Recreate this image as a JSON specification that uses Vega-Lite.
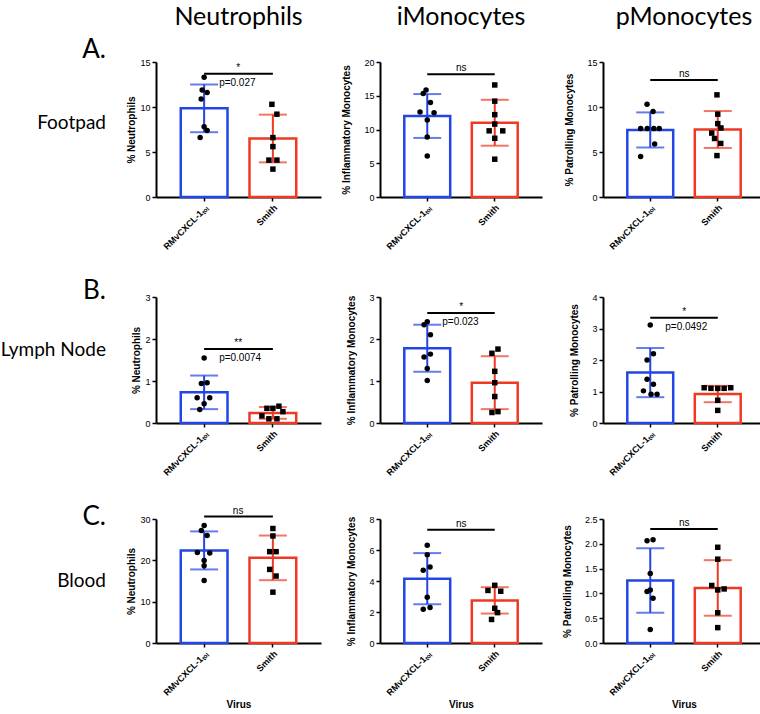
{
"$schema":"https://vega.github.io/schema/vega-lite/v6.json",
"padding":{"top":5,"left":0,"right":0,"bottom":0},
"background":"white",
"data":{"values":[
{"tissue":"Footpad","cell":"Neutrophils","kind":"bar","virus":"RMvCXCL-1ₜₒₗ","value":9.85,"sd":2.65},
{"tissue":"Footpad","cell":"Neutrophils","kind":"bar","virus":"Smith","value":6.5,"sd":2.65},
{"tissue":"Footpad","cell":"Neutrophils","kind":"pt","virus":"RMvCXCL-1ₜₒₗ","value":13.3,"jitter":0},
{"tissue":"Footpad","cell":"Neutrophils","kind":"pt","virus":"RMvCXCL-1ₜₒₗ","value":11.9,"jitter":-0.5},
{"tissue":"Footpad","cell":"Neutrophils","kind":"pt","virus":"RMvCXCL-1ₜₒₗ","value":11.6,"jitter":0.75},
{"tissue":"Footpad","cell":"Neutrophils","kind":"pt","virus":"RMvCXCL-1ₜₒₗ","value":10.9,"jitter":-0.75},
{"tissue":"Footpad","cell":"Neutrophils","kind":"pt","virus":"RMvCXCL-1ₜₒₗ","value":7.8,"jitter":0},
{"tissue":"Footpad","cell":"Neutrophils","kind":"pt","virus":"RMvCXCL-1ₜₒₗ","value":7.4,"jitter":0.75},
{"tissue":"Footpad","cell":"Neutrophils","kind":"pt","virus":"RMvCXCL-1ₜₒₗ","value":6.6,"jitter":-1},
{"tissue":"Footpad","cell":"Neutrophils","kind":"pt","virus":"Smith","value":10.3,"jitter":-0.25},
{"tissue":"Footpad","cell":"Neutrophils","kind":"pt","virus":"Smith","value":9.2,"jitter":1},
{"tissue":"Footpad","cell":"Neutrophils","kind":"pt","virus":"Smith","value":6.6,"jitter":0},
{"tissue":"Footpad","cell":"Neutrophils","kind":"pt","virus":"Smith","value":5.6,"jitter":0},
{"tissue":"Footpad","cell":"Neutrophils","kind":"pt","virus":"Smith","value":4.1,"jitter":-1},
{"tissue":"Footpad","cell":"Neutrophils","kind":"pt","virus":"Smith","value":4.1,"jitter":1},
{"tissue":"Footpad","cell":"Neutrophils","kind":"pt","virus":"Smith","value":3.1,"jitter":0},
{"tissue":"Footpad","cell":"Neutrophils","kind":"sig","value":13.7,"label":"*","pval":"p=0.027"},

{"tissue":"Footpad","cell":"iMonocytes","kind":"bar","virus":"RMvCXCL-1ₜₒₗ","value":12.0,"sd":3.25},
{"tissue":"Footpad","cell":"iMonocytes","kind":"bar","virus":"Smith","value":11.0,"sd":3.4},
{"tissue":"Footpad","cell":"iMonocytes","kind":"pt","virus":"RMvCXCL-1ₜₒₗ","value":15.86,"jitter":-0.3},
{"tissue":"Footpad","cell":"iMonocytes","kind":"pt","virus":"RMvCXCL-1ₜₒₗ","value":15.35,"jitter":-1},
{"tissue":"Footpad","cell":"iMonocytes","kind":"pt","virus":"RMvCXCL-1ₜₒₗ","value":14.0,"jitter":0.8},
{"tissue":"Footpad","cell":"iMonocytes","kind":"pt","virus":"RMvCXCL-1ₜₒₗ","value":12.6,"jitter":-1.8},
{"tissue":"Footpad","cell":"iMonocytes","kind":"pt","virus":"RMvCXCL-1ₜₒₗ","value":12.5,"jitter":1.7},
{"tissue":"Footpad","cell":"iMonocytes","kind":"pt","virus":"RMvCXCL-1ₜₒₗ","value":11.4,"jitter":0},
{"tissue":"Footpad","cell":"iMonocytes","kind":"pt","virus":"RMvCXCL-1ₜₒₗ","value":8.9,"jitter":0},
{"tissue":"Footpad","cell":"iMonocytes","kind":"pt","virus":"RMvCXCL-1ₜₒₗ","value":6.06,"jitter":0},
{"tissue":"Footpad","cell":"iMonocytes","kind":"pt","virus":"Smith","value":16.6,"jitter":0},
{"tissue":"Footpad","cell":"iMonocytes","kind":"pt","virus":"Smith","value":14.2,"jitter":0},
{"tissue":"Footpad","cell":"iMonocytes","kind":"pt","virus":"Smith","value":12.2,"jitter":0},
{"tissue":"Footpad","cell":"iMonocytes","kind":"pt","virus":"Smith","value":10.8,"jitter":0},
{"tissue":"Footpad","cell":"iMonocytes","kind":"pt","virus":"Smith","value":9.8,"jitter":-1.4},
{"tissue":"Footpad","cell":"iMonocytes","kind":"pt","virus":"Smith","value":9.8,"jitter":2},
{"tissue":"Footpad","cell":"iMonocytes","kind":"pt","virus":"Smith","value":8.7,"jitter":0},
{"tissue":"Footpad","cell":"iMonocytes","kind":"pt","virus":"Smith","value":5.6,"jitter":0},
{"tissue":"Footpad","cell":"iMonocytes","kind":"sig","value":18.2,"label":"ns"},

{"tissue":"Footpad","cell":"pMonocytes","kind":"bar","virus":"RMvCXCL-1ₜₒₗ","value":7.45,"sd":1.95},
{"tissue":"Footpad","cell":"pMonocytes","kind":"bar","virus":"Smith","value":7.5,"sd":2.05},
{"tissue":"Footpad","cell":"pMonocytes","kind":"pt","virus":"RMvCXCL-1ₜₒₗ","value":10.3,"jitter":-0.8},
{"tissue":"Footpad","cell":"pMonocytes","kind":"pt","virus":"RMvCXCL-1ₜₒₗ","value":9.5,"jitter":0.7},
{"tissue":"Footpad","cell":"pMonocytes","kind":"pt","virus":"RMvCXCL-1ₜₒₗ","value":7.6,"jitter":-2.4},
{"tissue":"Footpad","cell":"pMonocytes","kind":"pt","virus":"RMvCXCL-1ₜₒₗ","value":7.6,"jitter":-0.75},
{"tissue":"Footpad","cell":"pMonocytes","kind":"pt","virus":"RMvCXCL-1ₜₒₗ","value":7.6,"jitter":0.9},
{"tissue":"Footpad","cell":"pMonocytes","kind":"pt","virus":"RMvCXCL-1ₜₒₗ","value":7.6,"jitter":2.25},
{"tissue":"Footpad","cell":"pMonocytes","kind":"pt","virus":"RMvCXCL-1ₜₒₗ","value":5.9,"jitter":1.1},
{"tissue":"Footpad","cell":"pMonocytes","kind":"pt","virus":"RMvCXCL-1ₜₒₗ","value":4.5,"jitter":-2.4},
{"tissue":"Footpad","cell":"pMonocytes","kind":"pt","virus":"Smith","value":11.35,"jitter":-0.2},
{"tissue":"Footpad","cell":"pMonocytes","kind":"pt","virus":"Smith","value":9.2,"jitter":0},
{"tissue":"Footpad","cell":"pMonocytes","kind":"pt","virus":"Smith","value":8.15,"jitter":0},
{"tissue":"Footpad","cell":"pMonocytes","kind":"pt","virus":"Smith","value":7.67,"jitter":0.8},
{"tissue":"Footpad","cell":"pMonocytes","kind":"pt","virus":"Smith","value":7.1,"jitter":-1.5},
{"tissue":"Footpad","cell":"pMonocytes","kind":"pt","virus":"Smith","value":6.5,"jitter":-0.8},
{"tissue":"Footpad","cell":"pMonocytes","kind":"pt","virus":"Smith","value":5.95,"jitter":0.75},
{"tissue":"Footpad","cell":"pMonocytes","kind":"pt","virus":"Smith","value":4.6,"jitter":-0.2},
{"tissue":"Footpad","cell":"pMonocytes","kind":"sig","value":13.0,"label":"ns"},

{"tissue":"Lymph Node","cell":"Neutrophils","kind":"bar","virus":"RMvCXCL-1ₜₒₗ","value":0.73,"sd":0.4},
{"tissue":"Lymph Node","cell":"Neutrophils","kind":"bar","virus":"Smith","value":0.24,"sd":0.14},
{"tissue":"Lymph Node","cell":"Neutrophils","kind":"pt","virus":"RMvCXCL-1ₜₒₗ","value":1.55,"jitter":0},
{"tissue":"Lymph Node","cell":"Neutrophils","kind":"pt","virus":"RMvCXCL-1ₜₒₗ","value":0.94,"jitter":-0.7},
{"tissue":"Lymph Node","cell":"Neutrophils","kind":"pt","virus":"RMvCXCL-1ₜₒₗ","value":0.96,"jitter":0.75},
{"tissue":"Lymph Node","cell":"Neutrophils","kind":"pt","virus":"RMvCXCL-1ₜₒₗ","value":0.6,"jitter":-1.75},
{"tissue":"Lymph Node","cell":"Neutrophils","kind":"pt","virus":"RMvCXCL-1ₜₒₗ","value":0.6,"jitter":1.4},
{"tissue":"Lymph Node","cell":"Neutrophils","kind":"pt","virus":"RMvCXCL-1ₜₒₗ","value":0.46,"jitter":0},
{"tissue":"Lymph Node","cell":"Neutrophils","kind":"pt","virus":"RMvCXCL-1ₜₒₗ","value":0.32,"jitter":-1.1},
{"tissue":"Lymph Node","cell":"Neutrophils","kind":"pt","virus":"Smith","value":0.17,"jitter":-2.75},
{"tissue":"Lymph Node","cell":"Neutrophils","kind":"pt","virus":"Smith","value":0.35,"jitter":-1.5},
{"tissue":"Lymph Node","cell":"Neutrophils","kind":"pt","virus":"Smith","value":0.35,"jitter":0},
{"tissue":"Lymph Node","cell":"Neutrophils","kind":"pt","virus":"Smith","value":0.40,"jitter":1.5},
{"tissue":"Lymph Node","cell":"Neutrophils","kind":"pt","virus":"Smith","value":0.27,"jitter":2.5},
{"tissue":"Lymph Node","cell":"Neutrophils","kind":"pt","virus":"Smith","value":0.10,"jitter":-1},
{"tissue":"Lymph Node","cell":"Neutrophils","kind":"pt","virus":"Smith","value":0.10,"jitter":1},
{"tissue":"Lymph Node","cell":"Neutrophils","kind":"sig","value":1.76,"label":"**","pval":"p=0.0074"},

{"tissue":"Lymph Node","cell":"iMonocytes","kind":"bar","virus":"RMvCXCL-1ₜₒₗ","value":1.78,"sd":0.56},
{"tissue":"Lymph Node","cell":"iMonocytes","kind":"bar","virus":"Smith","value":0.96,"sd":0.63},
{"tissue":"Lymph Node","cell":"iMonocytes","kind":"pt","virus":"RMvCXCL-1ₜₒₗ","value":2.34,"jitter":-0.8},
{"tissue":"Lymph Node","cell":"iMonocytes","kind":"pt","virus":"RMvCXCL-1ₜₒₗ","value":2.41,"jitter":0},
{"tissue":"Lymph Node","cell":"iMonocytes","kind":"pt","virus":"RMvCXCL-1ₜₒₗ","value":2.1,"jitter":0.8},
{"tissue":"Lymph Node","cell":"iMonocytes","kind":"pt","virus":"RMvCXCL-1ₜₒₗ","value":1.57,"jitter":-0.8},
{"tissue":"Lymph Node","cell":"iMonocytes","kind":"pt","virus":"RMvCXCL-1ₜₒₗ","value":1.64,"jitter":0.8},
{"tissue":"Lymph Node","cell":"iMonocytes","kind":"pt","virus":"RMvCXCL-1ₜₒₗ","value":1.30,"jitter":0},
{"tissue":"Lymph Node","cell":"iMonocytes","kind":"pt","virus":"RMvCXCL-1ₜₒₗ","value":1.01,"jitter":0},
{"tissue":"Lymph Node","cell":"iMonocytes","kind":"pt","virus":"Smith","value":1.66,"jitter":-0.7},
{"tissue":"Lymph Node","cell":"iMonocytes","kind":"pt","virus":"Smith","value":1.76,"jitter":0.8},
{"tissue":"Lymph Node","cell":"iMonocytes","kind":"pt","virus":"Smith","value":1.23,"jitter":0},
{"tissue":"Lymph Node","cell":"iMonocytes","kind":"pt","virus":"Smith","value":0.96,"jitter":0},
{"tissue":"Lymph Node","cell":"iMonocytes","kind":"pt","virus":"Smith","value":0.63,"jitter":0},
{"tissue":"Lymph Node","cell":"iMonocytes","kind":"pt","virus":"Smith","value":0.25,"jitter":-0.7},
{"tissue":"Lymph Node","cell":"iMonocytes","kind":"pt","virus":"Smith","value":0.27,"jitter":0.8},
{"tissue":"Lymph Node","cell":"iMonocytes","kind":"sig","value":2.62,"label":"*","pval":"p=0.023"},

{"tissue":"Lymph Node","cell":"pMonocytes","kind":"bar","virus":"RMvCXCL-1ₜₒₗ","value":1.6,"sd":0.78},
{"tissue":"Lymph Node","cell":"pMonocytes","kind":"bar","virus":"Smith","value":0.92,"sd":0.26},
{"tissue":"Lymph Node","cell":"pMonocytes","kind":"pt","virus":"RMvCXCL-1ₜₒₗ","value":3.11,"jitter":0},
{"tissue":"Lymph Node","cell":"pMonocytes","kind":"pt","virus":"RMvCXCL-1ₜₒₗ","value":2.2,"jitter":0.8},
{"tissue":"Lymph Node","cell":"pMonocytes","kind":"pt","virus":"RMvCXCL-1ₜₒₗ","value":2.0,"jitter":-0.8},
{"tissue":"Lymph Node","cell":"pMonocytes","kind":"pt","virus":"RMvCXCL-1ₜₒₗ","value":1.39,"jitter":-0.8},
{"tissue":"Lymph Node","cell":"pMonocytes","kind":"pt","virus":"RMvCXCL-1ₜₒₗ","value":1.23,"jitter":0.8},
{"tissue":"Lymph Node","cell":"pMonocytes","kind":"pt","virus":"RMvCXCL-1ₜₒₗ","value":1.02,"jitter":-1.7},
{"tissue":"Lymph Node","cell":"pMonocytes","kind":"pt","virus":"RMvCXCL-1ₜₒₗ","value":0.91,"jitter":0.2},
{"tissue":"Lymph Node","cell":"pMonocytes","kind":"pt","virus":"RMvCXCL-1ₜₒₗ","value":0.91,"jitter":1.7},
{"tissue":"Lymph Node","cell":"pMonocytes","kind":"pt","virus":"Smith","value":1.12,"jitter":-3.4},
{"tissue":"Lymph Node","cell":"pMonocytes","kind":"pt","virus":"Smith","value":1.10,"jitter":-1.7},
{"tissue":"Lymph Node","cell":"pMonocytes","kind":"pt","virus":"Smith","value":1.10,"jitter":0},
{"tissue":"Lymph Node","cell":"pMonocytes","kind":"pt","virus":"Smith","value":1.10,"jitter":1.6},
{"tissue":"Lymph Node","cell":"pMonocytes","kind":"pt","virus":"Smith","value":1.12,"jitter":3.25},
{"tissue":"Lymph Node","cell":"pMonocytes","kind":"pt","virus":"Smith","value":0.72,"jitter":0},
{"tissue":"Lymph Node","cell":"pMonocytes","kind":"pt","virus":"Smith","value":0.40,"jitter":0},
{"tissue":"Lymph Node","cell":"pMonocytes","kind":"sig","value":3.34,"label":"*","pval":"p=0.0492"},

{"tissue":"Blood","cell":"Neutrophils","kind":"bar","virus":"RMvCXCL-1ₜₒₗ","value":22.4,"sd":4.6},
{"tissue":"Blood","cell":"Neutrophils","kind":"bar","virus":"Smith","value":20.6,"sd":5.4},
{"tissue":"Blood","cell":"Neutrophils","kind":"pt","virus":"RMvCXCL-1ₜₒₗ","value":28.4,"jitter":0},
{"tissue":"Blood","cell":"Neutrophils","kind":"pt","virus":"RMvCXCL-1ₜₒₗ","value":27.2,"jitter":-0.7},
{"tissue":"Blood","cell":"Neutrophils","kind":"pt","virus":"RMvCXCL-1ₜₒₗ","value":26.0,"jitter":0.75},
{"tissue":"Blood","cell":"Neutrophils","kind":"pt","virus":"RMvCXCL-1ₜₒₗ","value":21.9,"jitter":-1.7},
{"tissue":"Blood","cell":"Neutrophils","kind":"pt","virus":"RMvCXCL-1ₜₒₗ","value":21.75,"jitter":1.4},
{"tissue":"Blood","cell":"Neutrophils","kind":"pt","virus":"RMvCXCL-1ₜₒₗ","value":19.95,"jitter":0},
{"tissue":"Blood","cell":"Neutrophils","kind":"pt","virus":"RMvCXCL-1ₜₒₗ","value":18.7,"jitter":0},
{"tissue":"Blood","cell":"Neutrophils","kind":"pt","virus":"RMvCXCL-1ₜₒₗ","value":15.1,"jitter":0},
{"tissue":"Blood","cell":"Neutrophils","kind":"pt","virus":"Smith","value":27.7,"jitter":0},
{"tissue":"Blood","cell":"Neutrophils","kind":"pt","virus":"Smith","value":25.9,"jitter":0},
{"tissue":"Blood","cell":"Neutrophils","kind":"pt","virus":"Smith","value":22.1,"jitter":-0.8},
{"tissue":"Blood","cell":"Neutrophils","kind":"pt","virus":"Smith","value":22.1,"jitter":0.8},
{"tissue":"Blood","cell":"Neutrophils","kind":"pt","virus":"Smith","value":17.8,"jitter":-0.8},
{"tissue":"Blood","cell":"Neutrophils","kind":"pt","virus":"Smith","value":16.2,"jitter":0.8},
{"tissue":"Blood","cell":"Neutrophils","kind":"pt","virus":"Smith","value":12.3,"jitter":0},
{"tissue":"Blood","cell":"Neutrophils","kind":"sig","value":30.6,"label":"ns"},

{"tissue":"Blood","cell":"iMonocytes","kind":"bar","virus":"RMvCXCL-1ₜₒₗ","value":4.15,"sd":1.65},
{"tissue":"Blood","cell":"iMonocytes","kind":"bar","virus":"Smith","value":2.75,"sd":0.85},
{"tissue":"Blood","cell":"iMonocytes","kind":"pt","virus":"RMvCXCL-1ₜₒₗ","value":6.3,"jitter":0},
{"tissue":"Blood","cell":"iMonocytes","kind":"pt","virus":"RMvCXCL-1ₜₒₗ","value":5.7,"jitter":0},
{"tissue":"Blood","cell":"iMonocytes","kind":"pt","virus":"RMvCXCL-1ₜₒₗ","value":4.7,"jitter":-1},
{"tissue":"Blood","cell":"iMonocytes","kind":"pt","virus":"RMvCXCL-1ₜₒₗ","value":4.9,"jitter":0.7},
{"tissue":"Blood","cell":"iMonocytes","kind":"pt","virus":"RMvCXCL-1ₜₒₗ","value":2.95,"jitter":0},
{"tissue":"Blood","cell":"iMonocytes","kind":"pt","virus":"RMvCXCL-1ₜₒₗ","value":2.18,"jitter":-1},
{"tissue":"Blood","cell":"iMonocytes","kind":"pt","virus":"RMvCXCL-1ₜₒₗ","value":2.29,"jitter":0.7},
{"tissue":"Blood","cell":"iMonocytes","kind":"pt","virus":"Smith","value":3.72,"jitter":0},
{"tissue":"Blood","cell":"iMonocytes","kind":"pt","virus":"Smith","value":3.39,"jitter":-1.7},
{"tissue":"Blood","cell":"iMonocytes","kind":"pt","virus":"Smith","value":3.34,"jitter":1.5},
{"tissue":"Blood","cell":"iMonocytes","kind":"pt","virus":"Smith","value":2.24,"jitter":0},
{"tissue":"Blood","cell":"iMonocytes","kind":"pt","virus":"Smith","value":1.96,"jitter":0.7},
{"tissue":"Blood","cell":"iMonocytes","kind":"pt","virus":"Smith","value":1.52,"jitter":-0.8},
{"tissue":"Blood","cell":"iMonocytes","kind":"sig","value":7.3,"label":"ns"},

{"tissue":"Blood","cell":"pMonocytes","kind":"bar","virus":"RMvCXCL-1ₜₒₗ","value":1.26,"sd":0.65},
{"tissue":"Blood","cell":"pMonocytes","kind":"bar","virus":"Smith","value":1.11,"sd":0.56},
{"tissue":"Blood","cell":"pMonocytes","kind":"pt","virus":"RMvCXCL-1ₜₒₗ","value":2.06,"jitter":-0.8},
{"tissue":"Blood","cell":"pMonocytes","kind":"pt","virus":"RMvCXCL-1ₜₒₗ","value":2.08,"jitter":0.7},
{"tissue":"Blood","cell":"pMonocytes","kind":"pt","virus":"RMvCXCL-1ₜₒₗ","value":1.40,"jitter":0},
{"tissue":"Blood","cell":"pMonocytes","kind":"pt","virus":"RMvCXCL-1ₜₒₗ","value":1.04,"jitter":-0.8},
{"tissue":"Blood","cell":"pMonocytes","kind":"pt","virus":"RMvCXCL-1ₜₒₗ","value":1.07,"jitter":0},
{"tissue":"Blood","cell":"pMonocytes","kind":"pt","virus":"RMvCXCL-1ₜₒₗ","value":0.90,"jitter":0.7},
{"tissue":"Blood","cell":"pMonocytes","kind":"pt","virus":"RMvCXCL-1ₜₒₗ","value":0.27,"jitter":0},
{"tissue":"Blood","cell":"pMonocytes","kind":"pt","virus":"Smith","value":1.93,"jitter":0},
{"tissue":"Blood","cell":"pMonocytes","kind":"pt","virus":"Smith","value":1.69,"jitter":0},
{"tissue":"Blood","cell":"pMonocytes","kind":"pt","virus":"Smith","value":1.16,"jitter":-1.5},
{"tissue":"Blood","cell":"pMonocytes","kind":"pt","virus":"Smith","value":1.07,"jitter":0},
{"tissue":"Blood","cell":"pMonocytes","kind":"pt","virus":"Smith","value":1.09,"jitter":1.6},
{"tissue":"Blood","cell":"pMonocytes","kind":"pt","virus":"Smith","value":0.61,"jitter":0},
{"tissue":"Blood","cell":"pMonocytes","kind":"pt","virus":"Smith","value":0.31,"jitter":0},
{"tissue":"Blood","cell":"pMonocytes","kind":"sig","value":2.3,"label":"ns"}
]},
"columns":4,
"spacing":{"row":26,"column":20},
"concat":[
{"width":102,"height":135,"data":{"values":[{"part":"letter","text":"A."},{"part":"tissue","text":"Footpad"}]},
 "encoding":{"x":{"value":"width"},"y":{"field":"part","type":"nominal","scale":{"type":"point","domain":["letter","tissue","end"],"padding":0},"axis":null},"text":{"field":"text","type":"nominal"}},
 "layer":[
  {"transform":[{"filter":"datum.part === 'letter'"}],"mark":{"type":"text","align":"right","baseline":"alphabetic","font":"Lato","fontSize":26,"dy":-4}},
  {"transform":[{"filter":"datum.part === 'tissue'"}],"mark":{"type":"text","align":"right","baseline":"middle","font":"Lato","fontSize":19,"dy":-7}}
 ]},
{"width":165,"height":135,"title":{"text":"Neutrophils","offset":28},
 "transform":[{"filter":"datum.tissue === 'Footpad' && datum.cell === 'Neutrophils'"}],
 "resolve":{"scale":{"xOffset":"independent"}},
 "encoding":{"x":{"field":"virus","type":"nominal","sort":["RMvCXCL-1ₜₒₗ","Smith"],"scale":{"paddingInner":0.32,"paddingOuter":0.36},"axis":{"title":null}},
  "y":{"field":"value","type":"quantitative","scale":{"domain":[0,15],"nice":false},"axis":{"title":"% Neutrophils","values":[0,5,10,15],"titlePadding":3}}},
 "layer":[
  {"transform":[{"filter":"datum.kind === 'bar'"}],"mark":{"type":"bar","fill":"white","strokeWidth":2.5},"encoding":{"stroke":{"field":"virus","type":"nominal","scale":{"domain":["RMvCXCL-1ₜₒₗ","Smith"],"range":["#2346e4","#ee3a23"]},"legend":null}}},
  {"transform":[{"filter":"datum.kind === 'bar'"}],"mark":{"type":"errorbar","ticks":true,"size":28,"thickness":2},"encoding":{"yError":{"field":"sd"},"color":{"field":"virus","type":"nominal","scale":{"domain":["RMvCXCL-1ₜₒₗ","Smith"],"range":["#2346e4","#ee3a23"]},"legend":null}}},
  {"transform":[{"filter":"datum.kind === 'pt'"}],"mark":{"type":"point","filled":true,"color":"black","opacity":1,"size":30},"encoding":{"shape":{"field":"virus","type":"nominal","scale":{"domain":["RMvCXCL-1ₜₒₗ","Smith"],"range":["circle","square"]},"legend":null},"xOffset":{"field":"jitter","type":"quantitative","scale":{"domain":[-4,4],"range":[7.4,39.4]}}}},
  {"transform":[{"filter":"datum.kind === 'sig'"}],"mark":{"type":"rule","color":"black","strokeWidth":2},"encoding":{"x":{"datum":"RMvCXCL-1ₜₒₗ","bandPosition":0.5},"x2":{"datum":"Smith","bandPosition":0.5}}},
  {"transform":[{"filter":"datum.kind === 'sig'"}],"mark":{"type":"text","font":"Liberation Sans","fontSize":10,"baseline":"bottom","dx":34,"dy":-1},"encoding":{"x":{"datum":"RMvCXCL-1ₜₒₗ"},"text":{"field":"label"}}},
  {"transform":[{"filter":"datum.kind === 'sig' && isValid(datum.pval)"}],"mark":{"type":"text","font":"Liberation Sans","fontSize":10,"align":"left","baseline":"middle","dx":15,"dy":9},"encoding":{"x":{"datum":"RMvCXCL-1ₜₒₗ"},"text":{"field":"pval"}}}
 ]},
{"width":162,"height":135,"title":{"text":"iMonocytes","offset":28},
 "transform":[{"filter":"datum.tissue === 'Footpad' && datum.cell === 'iMonocytes'"}],
 "resolve":{"scale":{"xOffset":"independent"}},
 "encoding":{"x":{"field":"virus","type":"nominal","sort":["RMvCXCL-1ₜₒₗ","Smith"],"scale":{"paddingInner":0.32,"paddingOuter":0.36},"axis":{"title":null}},
  "y":{"field":"value","type":"quantitative","scale":{"domain":[0,20],"nice":false},"axis":{"title":"% Inflammatory Monocytes","values":[0,5,10,15,20]}}},
 "layer":[
  {"transform":[{"filter":"datum.kind === 'bar'"}],"mark":{"type":"bar","fill":"white","strokeWidth":2.5},"encoding":{"stroke":{"field":"virus","type":"nominal","scale":{"domain":["RMvCXCL-1ₜₒₗ","Smith"],"range":["#2346e4","#ee3a23"]},"legend":null}}},
  {"transform":[{"filter":"datum.kind === 'bar'"}],"mark":{"type":"errorbar","ticks":true,"size":28,"thickness":2},"encoding":{"yError":{"field":"sd"},"color":{"field":"virus","type":"nominal","scale":{"domain":["RMvCXCL-1ₜₒₗ","Smith"],"range":["#2346e4","#ee3a23"]},"legend":null}}},
  {"transform":[{"filter":"datum.kind === 'pt'"}],"mark":{"type":"point","filled":true,"color":"black","opacity":1,"size":30},"encoding":{"shape":{"field":"virus","type":"nominal","scale":{"domain":["RMvCXCL-1ₜₒₗ","Smith"],"range":["circle","square"]},"legend":null},"xOffset":{"field":"jitter","type":"quantitative","scale":{"domain":[-4,4],"range":[6.95,38.95]}}}},
  {"transform":[{"filter":"datum.kind === 'sig'"}],"mark":{"type":"rule","color":"black","strokeWidth":2},"encoding":{"x":{"datum":"RMvCXCL-1ₜₒₗ","bandPosition":0.5},"x2":{"datum":"Smith","bandPosition":0.5}}},
  {"transform":[{"filter":"datum.kind === 'sig'"}],"mark":{"type":"text","font":"Liberation Sans","fontSize":10,"baseline":"bottom","dx":34,"dy":-1},"encoding":{"x":{"datum":"RMvCXCL-1ₜₒₗ"},"text":{"field":"label"}}},
  {"transform":[{"filter":"datum.kind === 'sig' && isValid(datum.pval)"}],"mark":{"type":"text","font":"Liberation Sans","fontSize":10,"align":"left","baseline":"middle","dx":15,"dy":9},"encoding":{"x":{"datum":"RMvCXCL-1ₜₒₗ"},"text":{"field":"pval"}}}
 ]},
{"width":162,"height":135,"title":{"text":"pMonocytes","offset":28},
 "transform":[{"filter":"datum.tissue === 'Footpad' && datum.cell === 'pMonocytes'"}],
 "resolve":{"scale":{"xOffset":"independent"}},
 "encoding":{"x":{"field":"virus","type":"nominal","sort":["RMvCXCL-1ₜₒₗ","Smith"],"scale":{"paddingInner":0.32,"paddingOuter":0.36},"axis":{"title":null}},
  "y":{"field":"value","type":"quantitative","scale":{"domain":[0,15],"nice":false},"axis":{"title":"% Patrolling Monocytes","values":[0,5,10,15]}}},
 "layer":[
  {"transform":[{"filter":"datum.kind === 'bar'"}],"mark":{"type":"bar","fill":"white","strokeWidth":2.5},"encoding":{"stroke":{"field":"virus","type":"nominal","scale":{"domain":["RMvCXCL-1ₜₒₗ","Smith"],"range":["#2346e4","#ee3a23"]},"legend":null}}},
  {"transform":[{"filter":"datum.kind === 'bar'"}],"mark":{"type":"errorbar","ticks":true,"size":28,"thickness":2},"encoding":{"yError":{"field":"sd"},"color":{"field":"virus","type":"nominal","scale":{"domain":["RMvCXCL-1ₜₒₗ","Smith"],"range":["#2346e4","#ee3a23"]},"legend":null}}},
  {"transform":[{"filter":"datum.kind === 'pt'"}],"mark":{"type":"point","filled":true,"color":"black","opacity":1,"size":30},"encoding":{"shape":{"field":"virus","type":"nominal","scale":{"domain":["RMvCXCL-1ₜₒₗ","Smith"],"range":["circle","square"]},"legend":null},"xOffset":{"field":"jitter","type":"quantitative","scale":{"domain":[-4,4],"range":[6.95,38.95]}}}},
  {"transform":[{"filter":"datum.kind === 'sig'"}],"mark":{"type":"rule","color":"black","strokeWidth":2},"encoding":{"x":{"datum":"RMvCXCL-1ₜₒₗ","bandPosition":0.5},"x2":{"datum":"Smith","bandPosition":0.5}}},
  {"transform":[{"filter":"datum.kind === 'sig'"}],"mark":{"type":"text","font":"Liberation Sans","fontSize":10,"baseline":"bottom","dx":34,"dy":-1},"encoding":{"x":{"datum":"RMvCXCL-1ₜₒₗ"},"text":{"field":"label"}}},
  {"transform":[{"filter":"datum.kind === 'sig' && isValid(datum.pval)"}],"mark":{"type":"text","font":"Liberation Sans","fontSize":10,"align":"left","baseline":"middle","dx":15,"dy":9},"encoding":{"x":{"datum":"RMvCXCL-1ₜₒₗ"},"text":{"field":"pval"}}}
 ]},

{"width":102,"height":126,"data":{"values":[{"part":"letter","text":"B."},{"part":"tissue","text":"Lymph Node"}]},
 "encoding":{"x":{"value":"width"},"y":{"field":"part","type":"nominal","scale":{"type":"point","domain":["letter","tissue","end"],"padding":0},"axis":null},"text":{"field":"text","type":"nominal"}},
 "layer":[
  {"transform":[{"filter":"datum.part === 'letter'"}],"mark":{"type":"text","align":"right","baseline":"alphabetic","font":"Lato","fontSize":26,"dy":2}},
  {"transform":[{"filter":"datum.part === 'tissue'"}],"mark":{"type":"text","align":"right","baseline":"middle","font":"Lato","fontSize":19,"dy":-10}}
 ]},
{"width":165,"height":126,
 "transform":[{"filter":"datum.tissue === 'Lymph Node' && datum.cell === 'Neutrophils'"}],
 "resolve":{"scale":{"xOffset":"independent"}},
 "encoding":{"x":{"field":"virus","type":"nominal","sort":["RMvCXCL-1ₜₒₗ","Smith"],"scale":{"paddingInner":0.32,"paddingOuter":0.36},"axis":{"title":null}},
  "y":{"field":"value","type":"quantitative","scale":{"domain":[0,3],"nice":false},"axis":{"title":"% Neutrophils","values":[0,1,2,3],"titlePadding":3}}},
 "layer":[
  {"transform":[{"filter":"datum.kind === 'bar'"}],"mark":{"type":"bar","fill":"white","strokeWidth":2.5},"encoding":{"stroke":{"field":"virus","type":"nominal","scale":{"domain":["RMvCXCL-1ₜₒₗ","Smith"],"range":["#2346e4","#ee3a23"]},"legend":null}}},
  {"transform":[{"filter":"datum.kind === 'bar'"}],"mark":{"type":"errorbar","ticks":true,"size":28,"thickness":2},"encoding":{"yError":{"field":"sd"},"color":{"field":"virus","type":"nominal","scale":{"domain":["RMvCXCL-1ₜₒₗ","Smith"],"range":["#2346e4","#ee3a23"]},"legend":null}}},
  {"transform":[{"filter":"datum.kind === 'pt'"}],"mark":{"type":"point","filled":true,"color":"black","opacity":1,"size":30},"encoding":{"shape":{"field":"virus","type":"nominal","scale":{"domain":["RMvCXCL-1ₜₒₗ","Smith"],"range":["circle","square"]},"legend":null},"xOffset":{"field":"jitter","type":"quantitative","scale":{"domain":[-4,4],"range":[7.4,39.4]}}}},
  {"transform":[{"filter":"datum.kind === 'sig'"}],"mark":{"type":"rule","color":"black","strokeWidth":2},"encoding":{"x":{"datum":"RMvCXCL-1ₜₒₗ","bandPosition":0.5},"x2":{"datum":"Smith","bandPosition":0.5}}},
  {"transform":[{"filter":"datum.kind === 'sig'"}],"mark":{"type":"text","font":"Liberation Sans","fontSize":10,"baseline":"bottom","dx":34,"dy":-1},"encoding":{"x":{"datum":"RMvCXCL-1ₜₒₗ"},"text":{"field":"label"}}},
  {"transform":[{"filter":"datum.kind === 'sig' && isValid(datum.pval)"}],"mark":{"type":"text","font":"Liberation Sans","fontSize":10,"align":"left","baseline":"middle","dx":15,"dy":9},"encoding":{"x":{"datum":"RMvCXCL-1ₜₒₗ"},"text":{"field":"pval"}}}
 ]},
{"width":162,"height":126,
 "transform":[{"filter":"datum.tissue === 'Lymph Node' && datum.cell === 'iMonocytes'"}],
 "resolve":{"scale":{"xOffset":"independent"}},
 "encoding":{"x":{"field":"virus","type":"nominal","sort":["RMvCXCL-1ₜₒₗ","Smith"],"scale":{"paddingInner":0.32,"paddingOuter":0.36},"axis":{"title":null}},
  "y":{"field":"value","type":"quantitative","scale":{"domain":[0,3],"nice":false},"axis":{"title":"% Inflammatory Monocytes","values":[0,1,2,3]}}},
 "layer":[
  {"transform":[{"filter":"datum.kind === 'bar'"}],"mark":{"type":"bar","fill":"white","strokeWidth":2.5},"encoding":{"stroke":{"field":"virus","type":"nominal","scale":{"domain":["RMvCXCL-1ₜₒₗ","Smith"],"range":["#2346e4","#ee3a23"]},"legend":null}}},
  {"transform":[{"filter":"datum.kind === 'bar'"}],"mark":{"type":"errorbar","ticks":true,"size":28,"thickness":2},"encoding":{"yError":{"field":"sd"},"color":{"field":"virus","type":"nominal","scale":{"domain":["RMvCXCL-1ₜₒₗ","Smith"],"range":["#2346e4","#ee3a23"]},"legend":null}}},
  {"transform":[{"filter":"datum.kind === 'pt'"}],"mark":{"type":"point","filled":true,"color":"black","opacity":1,"size":30},"encoding":{"shape":{"field":"virus","type":"nominal","scale":{"domain":["RMvCXCL-1ₜₒₗ","Smith"],"range":["circle","square"]},"legend":null},"xOffset":{"field":"jitter","type":"quantitative","scale":{"domain":[-4,4],"range":[6.95,38.95]}}}},
  {"transform":[{"filter":"datum.kind === 'sig'"}],"mark":{"type":"rule","color":"black","strokeWidth":2},"encoding":{"x":{"datum":"RMvCXCL-1ₜₒₗ","bandPosition":0.5},"x2":{"datum":"Smith","bandPosition":0.5}}},
  {"transform":[{"filter":"datum.kind === 'sig'"}],"mark":{"type":"text","font":"Liberation Sans","fontSize":10,"baseline":"bottom","dx":34,"dy":-1},"encoding":{"x":{"datum":"RMvCXCL-1ₜₒₗ"},"text":{"field":"label"}}},
  {"transform":[{"filter":"datum.kind === 'sig' && isValid(datum.pval)"}],"mark":{"type":"text","font":"Liberation Sans","fontSize":10,"align":"left","baseline":"middle","dx":15,"dy":9},"encoding":{"x":{"datum":"RMvCXCL-1ₜₒₗ"},"text":{"field":"pval"}}}
 ]},
{"width":162,"height":126,
 "transform":[{"filter":"datum.tissue === 'Lymph Node' && datum.cell === 'pMonocytes'"}],
 "resolve":{"scale":{"xOffset":"independent"}},
 "encoding":{"x":{"field":"virus","type":"nominal","sort":["RMvCXCL-1ₜₒₗ","Smith"],"scale":{"paddingInner":0.32,"paddingOuter":0.36},"axis":{"title":null}},
  "y":{"field":"value","type":"quantitative","scale":{"domain":[0,4],"nice":false},"axis":{"title":"% Patrolling Monocytes","values":[0,1,2,3,4]}}},
 "layer":[
  {"transform":[{"filter":"datum.kind === 'bar'"}],"mark":{"type":"bar","fill":"white","strokeWidth":2.5},"encoding":{"stroke":{"field":"virus","type":"nominal","scale":{"domain":["RMvCXCL-1ₜₒₗ","Smith"],"range":["#2346e4","#ee3a23"]},"legend":null}}},
  {"transform":[{"filter":"datum.kind === 'bar'"}],"mark":{"type":"errorbar","ticks":true,"size":28,"thickness":2},"encoding":{"yError":{"field":"sd"},"color":{"field":"virus","type":"nominal","scale":{"domain":["RMvCXCL-1ₜₒₗ","Smith"],"range":["#2346e4","#ee3a23"]},"legend":null}}},
  {"transform":[{"filter":"datum.kind === 'pt'"}],"mark":{"type":"point","filled":true,"color":"black","opacity":1,"size":30},"encoding":{"shape":{"field":"virus","type":"nominal","scale":{"domain":["RMvCXCL-1ₜₒₗ","Smith"],"range":["circle","square"]},"legend":null},"xOffset":{"field":"jitter","type":"quantitative","scale":{"domain":[-4,4],"range":[6.95,38.95]}}}},
  {"transform":[{"filter":"datum.kind === 'sig'"}],"mark":{"type":"rule","color":"black","strokeWidth":2},"encoding":{"x":{"datum":"RMvCXCL-1ₜₒₗ","bandPosition":0.5},"x2":{"datum":"Smith","bandPosition":0.5}}},
  {"transform":[{"filter":"datum.kind === 'sig'"}],"mark":{"type":"text","font":"Liberation Sans","fontSize":10,"baseline":"bottom","dx":34,"dy":-1},"encoding":{"x":{"datum":"RMvCXCL-1ₜₒₗ"},"text":{"field":"label"}}},
  {"transform":[{"filter":"datum.kind === 'sig' && isValid(datum.pval)"}],"mark":{"type":"text","font":"Liberation Sans","fontSize":10,"align":"left","baseline":"middle","dx":15,"dy":9},"encoding":{"x":{"datum":"RMvCXCL-1ₜₒₗ"},"text":{"field":"pval"}}}
 ]},

{"width":102,"height":124,"data":{"values":[{"part":"letter","text":"C."},{"part":"tissue","text":"Blood"}]},
 "encoding":{"x":{"value":"width"},"y":{"field":"part","type":"nominal","scale":{"type":"point","domain":["letter","tissue","end"],"padding":0},"axis":null},"text":{"field":"text","type":"nominal"}},
 "layer":[
  {"transform":[{"filter":"datum.part === 'letter'"}],"mark":{"type":"text","align":"right","baseline":"alphabetic","font":"Lato","fontSize":26,"dy":6}},
  {"transform":[{"filter":"datum.part === 'tissue'"}],"mark":{"type":"text","align":"right","baseline":"middle","font":"Lato","fontSize":19,"dy":0}}
 ]},
{"width":165,"height":124,
 "transform":[{"filter":"datum.tissue === 'Blood' && datum.cell === 'Neutrophils'"}],
 "resolve":{"scale":{"xOffset":"independent"}},
 "encoding":{"x":{"field":"virus","type":"nominal","sort":["RMvCXCL-1ₜₒₗ","Smith"],"scale":{"paddingInner":0.32,"paddingOuter":0.36},"axis":{"title":"Virus"}},
  "y":{"field":"value","type":"quantitative","scale":{"domain":[0,30],"nice":false},"axis":{"title":"% Neutrophils","values":[0,10,20,30],"titlePadding":3}}},
 "layer":[
  {"transform":[{"filter":"datum.kind === 'bar'"}],"mark":{"type":"bar","fill":"white","strokeWidth":2.5},"encoding":{"stroke":{"field":"virus","type":"nominal","scale":{"domain":["RMvCXCL-1ₜₒₗ","Smith"],"range":["#2346e4","#ee3a23"]},"legend":null}}},
  {"transform":[{"filter":"datum.kind === 'bar'"}],"mark":{"type":"errorbar","ticks":true,"size":28,"thickness":2},"encoding":{"yError":{"field":"sd"},"color":{"field":"virus","type":"nominal","scale":{"domain":["RMvCXCL-1ₜₒₗ","Smith"],"range":["#2346e4","#ee3a23"]},"legend":null}}},
  {"transform":[{"filter":"datum.kind === 'pt'"}],"mark":{"type":"point","filled":true,"color":"black","opacity":1,"size":30},"encoding":{"shape":{"field":"virus","type":"nominal","scale":{"domain":["RMvCXCL-1ₜₒₗ","Smith"],"range":["circle","square"]},"legend":null},"xOffset":{"field":"jitter","type":"quantitative","scale":{"domain":[-4,4],"range":[7.4,39.4]}}}},
  {"transform":[{"filter":"datum.kind === 'sig'"}],"mark":{"type":"rule","color":"black","strokeWidth":2},"encoding":{"x":{"datum":"RMvCXCL-1ₜₒₗ","bandPosition":0.5},"x2":{"datum":"Smith","bandPosition":0.5}}},
  {"transform":[{"filter":"datum.kind === 'sig'"}],"mark":{"type":"text","font":"Liberation Sans","fontSize":10,"baseline":"bottom","dx":34,"dy":-1},"encoding":{"x":{"datum":"RMvCXCL-1ₜₒₗ"},"text":{"field":"label"}}},
  {"transform":[{"filter":"datum.kind === 'sig' && isValid(datum.pval)"}],"mark":{"type":"text","font":"Liberation Sans","fontSize":10,"align":"left","baseline":"middle","dx":15,"dy":9},"encoding":{"x":{"datum":"RMvCXCL-1ₜₒₗ"},"text":{"field":"pval"}}}
 ]},
{"width":162,"height":124,
 "transform":[{"filter":"datum.tissue === 'Blood' && datum.cell === 'iMonocytes'"}],
 "resolve":{"scale":{"xOffset":"independent"}},
 "encoding":{"x":{"field":"virus","type":"nominal","sort":["RMvCXCL-1ₜₒₗ","Smith"],"scale":{"paddingInner":0.32,"paddingOuter":0.36},"axis":{"title":"Virus"}},
  "y":{"field":"value","type":"quantitative","scale":{"domain":[0,8],"nice":false},"axis":{"title":"% Inflammatory Monocytes","values":[0,2,4,6,8]}}},
 "layer":[
  {"transform":[{"filter":"datum.kind === 'bar'"}],"mark":{"type":"bar","fill":"white","strokeWidth":2.5},"encoding":{"stroke":{"field":"virus","type":"nominal","scale":{"domain":["RMvCXCL-1ₜₒₗ","Smith"],"range":["#2346e4","#ee3a23"]},"legend":null}}},
  {"transform":[{"filter":"datum.kind === 'bar'"}],"mark":{"type":"errorbar","ticks":true,"size":28,"thickness":2},"encoding":{"yError":{"field":"sd"},"color":{"field":"virus","type":"nominal","scale":{"domain":["RMvCXCL-1ₜₒₗ","Smith"],"range":["#2346e4","#ee3a23"]},"legend":null}}},
  {"transform":[{"filter":"datum.kind === 'pt'"}],"mark":{"type":"point","filled":true,"color":"black","opacity":1,"size":30},"encoding":{"shape":{"field":"virus","type":"nominal","scale":{"domain":["RMvCXCL-1ₜₒₗ","Smith"],"range":["circle","square"]},"legend":null},"xOffset":{"field":"jitter","type":"quantitative","scale":{"domain":[-4,4],"range":[6.95,38.95]}}}},
  {"transform":[{"filter":"datum.kind === 'sig'"}],"mark":{"type":"rule","color":"black","strokeWidth":2},"encoding":{"x":{"datum":"RMvCXCL-1ₜₒₗ","bandPosition":0.5},"x2":{"datum":"Smith","bandPosition":0.5}}},
  {"transform":[{"filter":"datum.kind === 'sig'"}],"mark":{"type":"text","font":"Liberation Sans","fontSize":10,"baseline":"bottom","dx":34,"dy":-1},"encoding":{"x":{"datum":"RMvCXCL-1ₜₒₗ"},"text":{"field":"label"}}},
  {"transform":[{"filter":"datum.kind === 'sig' && isValid(datum.pval)"}],"mark":{"type":"text","font":"Liberation Sans","fontSize":10,"align":"left","baseline":"middle","dx":15,"dy":9},"encoding":{"x":{"datum":"RMvCXCL-1ₜₒₗ"},"text":{"field":"pval"}}}
 ]},
{"width":162,"height":124,
 "transform":[{"filter":"datum.tissue === 'Blood' && datum.cell === 'pMonocytes'"}],
 "resolve":{"scale":{"xOffset":"independent"}},
 "encoding":{"x":{"field":"virus","type":"nominal","sort":["RMvCXCL-1ₜₒₗ","Smith"],"scale":{"paddingInner":0.32,"paddingOuter":0.36},"axis":{"title":"Virus"}},
  "y":{"field":"value","type":"quantitative","scale":{"domain":[0,2.5],"nice":false},"axis":{"title":"% Patrolling Monocytes","values":[0,0.5,1,1.5,2,2.5],"format":".1f"}}},
 "layer":[
  {"transform":[{"filter":"datum.kind === 'bar'"}],"mark":{"type":"bar","fill":"white","strokeWidth":2.5},"encoding":{"stroke":{"field":"virus","type":"nominal","scale":{"domain":["RMvCXCL-1ₜₒₗ","Smith"],"range":["#2346e4","#ee3a23"]},"legend":null}}},
  {"transform":[{"filter":"datum.kind === 'bar'"}],"mark":{"type":"errorbar","ticks":true,"size":28,"thickness":2},"encoding":{"yError":{"field":"sd"},"color":{"field":"virus","type":"nominal","scale":{"domain":["RMvCXCL-1ₜₒₗ","Smith"],"range":["#2346e4","#ee3a23"]},"legend":null}}},
  {"transform":[{"filter":"datum.kind === 'pt'"}],"mark":{"type":"point","filled":true,"color":"black","opacity":1,"size":30},"encoding":{"shape":{"field":"virus","type":"nominal","scale":{"domain":["RMvCXCL-1ₜₒₗ","Smith"],"range":["circle","square"]},"legend":null},"xOffset":{"field":"jitter","type":"quantitative","scale":{"domain":[-4,4],"range":[6.95,38.95]}}}},
  {"transform":[{"filter":"datum.kind === 'sig'"}],"mark":{"type":"rule","color":"black","strokeWidth":2},"encoding":{"x":{"datum":"RMvCXCL-1ₜₒₗ","bandPosition":0.5},"x2":{"datum":"Smith","bandPosition":0.5}}},
  {"transform":[{"filter":"datum.kind === 'sig'"}],"mark":{"type":"text","font":"Liberation Sans","fontSize":10,"baseline":"bottom","dx":34,"dy":-1},"encoding":{"x":{"datum":"RMvCXCL-1ₜₒₗ"},"text":{"field":"label"}}},
  {"transform":[{"filter":"datum.kind === 'sig' && isValid(datum.pval)"}],"mark":{"type":"text","font":"Liberation Sans","fontSize":10,"align":"left","baseline":"middle","dx":15,"dy":9},"encoding":{"x":{"datum":"RMvCXCL-1ₜₒₗ"},"text":{"field":"pval"}}}
 ]}
],
"config":{
 "view":{"stroke":null},
 "title":{"font":"Lato","fontSize":25,"fontWeight":"normal","color":"black"},
 "axis":{"domainColor":"black","domainWidth":2,"tickColor":"black","tickWidth":1.5,"tickSize":4,"labelFont":"Liberation Sans","labelFontSize":9,"labelColor":"black","labelPadding":2,"titleFont":"Liberation Sans","titleFontSize":10,"titleFontWeight":"bold","titleColor":"black","grid":false},
 "axisX":{"labelAngle":-45,"labelFontWeight":"bold","labelFontSize":9,"titlePadding":2},
 "axisY":{"titlePadding":12},
 "text":{"color":"black"}
}
}
